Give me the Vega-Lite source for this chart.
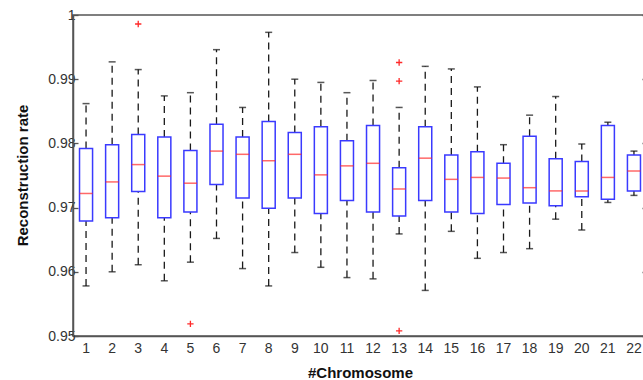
{
  "$schema": "https://vega.github.io/schema/vega-lite/v6.json",
  "width": 574,
  "height": 321,
  "autosize": {"type": "none"},
  "padding": {"left": 73, "top": 15, "right": 0, "bottom": 44},
  "background": "white",
  "config": {
    "view": {"stroke": "#555", "strokeWidth": 1.5},
    "font": "Liberation Sans"
  },
  "datasets": {
    "boxes": [
      {"c": 1, "lo": 0.9578, "q1": 0.9679, "med": 0.9722, "q3": 0.9792, "hi": 0.9862},
      {"c": 2, "lo": 0.9600, "q1": 0.9684, "med": 0.9740, "q3": 0.9798, "hi": 0.9927},
      {"c": 3, "lo": 0.9611, "q1": 0.9725, "med": 0.9767, "q3": 0.9814, "hi": 0.9915},
      {"c": 4, "lo": 0.9586, "q1": 0.9684, "med": 0.9749, "q3": 0.9810, "hi": 0.9874},
      {"c": 5, "lo": 0.9615, "q1": 0.9693, "med": 0.9738, "q3": 0.9789, "hi": 0.9879},
      {"c": 6, "lo": 0.9652, "q1": 0.9736, "med": 0.9788, "q3": 0.9830, "hi": 0.9946},
      {"c": 7, "lo": 0.9605, "q1": 0.9715, "med": 0.9783, "q3": 0.9810, "hi": 0.9856},
      {"c": 8, "lo": 0.9578, "q1": 0.9699, "med": 0.9773, "q3": 0.9834, "hi": 0.9973},
      {"c": 9, "lo": 0.9630, "q1": 0.9715, "med": 0.9783, "q3": 0.9817, "hi": 0.9900},
      {"c": 10, "lo": 0.9607, "q1": 0.9691, "med": 0.9751, "q3": 0.9826, "hi": 0.9895},
      {"c": 11, "lo": 0.9591, "q1": 0.9711, "med": 0.9765, "q3": 0.9804, "hi": 0.9879},
      {"c": 12, "lo": 0.9589, "q1": 0.9693, "med": 0.9769, "q3": 0.9828, "hi": 0.9898},
      {"c": 13, "lo": 0.9659, "q1": 0.9687, "med": 0.9729, "q3": 0.9762, "hi": 0.9856},
      {"c": 14, "lo": 0.9571, "q1": 0.9711, "med": 0.9777, "q3": 0.9826, "hi": 0.9920},
      {"c": 15, "lo": 0.9663, "q1": 0.9693, "med": 0.9744, "q3": 0.9782, "hi": 0.9916},
      {"c": 16, "lo": 0.9621, "q1": 0.9691, "med": 0.9747, "q3": 0.9787, "hi": 0.9888},
      {"c": 17, "lo": 0.9630, "q1": 0.9705, "med": 0.9746, "q3": 0.9769, "hi": 0.9798},
      {"c": 18, "lo": 0.9636, "q1": 0.9707, "med": 0.9731, "q3": 0.9811, "hi": 0.9844},
      {"c": 19, "lo": 0.9682, "q1": 0.9703, "med": 0.9726, "q3": 0.9776, "hi": 0.9873},
      {"c": 20, "lo": 0.9665, "q1": 0.9717, "med": 0.9726, "q3": 0.9772, "hi": 0.9799},
      {"c": 21, "lo": 0.9708, "q1": 0.9713, "med": 0.9747, "q3": 0.9828, "hi": 0.9833},
      {"c": 22, "lo": 0.9719, "q1": 0.9726, "med": 0.9757, "q3": 0.9782, "hi": 0.9788}
    ],
    "outliers": [
      {"c": 3, "v": 0.9986},
      {"c": 5, "v": 0.9519},
      {"c": 13, "v": 0.9926},
      {"c": 13, "v": 0.9897},
      {"c": 13, "v": 0.9508}
    ]
  },
  "encoding": {
    "x": {
      "field": "c",
      "type": "ordinal",
      "scale": {"domain": [1,2,3,4,5,6,7,8,9,10,11,12,13,14,15,16,17,18,19,20,21,22], "paddingInner": 0, "paddingOuter": 0},
      "axis": {
        "title": "#Chromosome",
        "titleFontSize": 15,
        "titleFontWeight": "bold",
        "titleColor": "#111",
        "titleY": 36,
        "titleBaseline": "middle",
        "labelAngle": 0,
        "labelFontSize": 14,
        "labelColor": "#333",
        "labelPadding": 5,
        "ticks": false,
        "domainColor": "#555",
        "domainWidth": 1.5
      }
    }
  },
  "resolve": {"axis": {"y": "independent"}},
  "layer": [
    {
      "data": {"name": "boxes"},
      "mark": {"type": "rule", "color": "#1a1a1a", "strokeWidth": 1.3, "strokeDash": [7, 5]},
      "encoding": {
        "y": {
          "field": "lo",
          "type": "quantitative",
          "scale": {"domain": [0.95, 1], "nice": false, "zero": false},
          "axis": {
            "title": "Reconstruction rate",
            "titleFontSize": 15,
            "titleFontWeight": "bold",
            "titleColor": "#111",
            "titleAngle": -90,
            "titleX": -51,
            "titleY": 160,
            "titleAlign": "center",
            "titleBaseline": "middle",
            "values": [0.95, 0.96, 0.97, 0.98, 0.99, 1],
            "format": "~g",
            "labelFontSize": 14,
            "labelColor": "#333",
            "labelPadding": 3,
            "tickSize": -5,
            "tickWidth": 1.3,
            "tickColor": "#555",
            "domainColor": "#555",
            "domainWidth": 1.5,
            "grid": false
          }
        },
        "y2": {"field": "q1"}
      }
    },
    {
      "data": {"name": "boxes"},
      "mark": {"type": "rule", "color": "#1a1a1a", "strokeWidth": 1.3, "strokeDash": [7, 5]},
      "encoding": {
        "y": {
          "field": "q3",
          "type": "quantitative",
          "axis": {
            "orient": "right",
            "title": null,
            "values": [0.95, 0.96, 0.97, 0.98, 0.99, 1],
            "labels": false,
            "tickSize": -5,
            "tickWidth": 1.3,
            "tickColor": "#555",
            "domainColor": "#555",
            "domainWidth": 1.5,
            "grid": false
          }
        },
        "y2": {"field": "hi"}
      }
    },
    {
      "data": {"name": "boxes"},
      "mark": {"type": "tick", "color": "#111", "size": 7, "thickness": 1.5},
      "encoding": {"y": {"field": "hi", "type": "quantitative", "axis": null}}
    },
    {
      "data": {"name": "boxes"},
      "mark": {"type": "tick", "color": "#111", "size": 7, "thickness": 1.5},
      "encoding": {"y": {"field": "lo", "type": "quantitative", "axis": null}}
    },
    {
      "data": {"name": "boxes"},
      "mark": {"type": "bar", "fill": "white", "stroke": "#3a3aff", "strokeWidth": 1.5, "width": {"band": 0.5}},
      "encoding": {
        "y": {"field": "q1", "type": "quantitative", "axis": null},
        "y2": {"field": "q3"}
      }
    },
    {
      "data": {"name": "boxes"},
      "mark": {"type": "tick", "color": "#ff2a2a", "size": 13, "thickness": 1.5},
      "encoding": {"y": {"field": "med", "type": "quantitative", "axis": null}}
    },
    {
      "data": {"name": "outliers"},
      "mark": {"type": "point", "shape": "M-1,0L1,0M0,-1L0,1", "filled": false, "stroke": "#ff2a2a", "strokeWidth": 1.3, "size": 40, "opacity": 1},
      "encoding": {"y": {"field": "v", "type": "quantitative", "axis": null}}
    }
  ]
}
